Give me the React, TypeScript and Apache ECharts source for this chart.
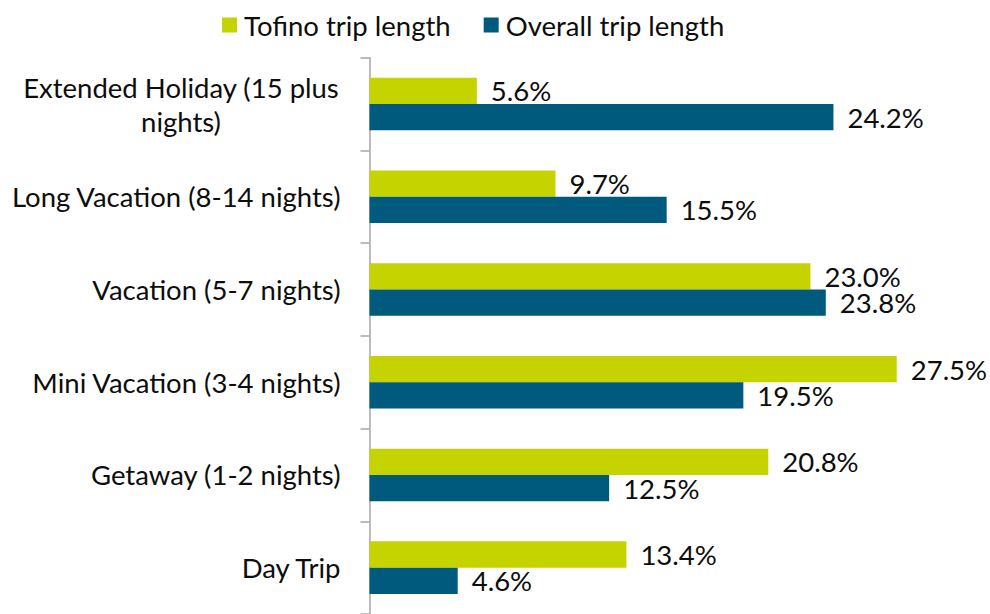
import React, { useEffect, useRef } from "react";
import * as echarts from "echarts";

const categories = [
  "Extended Holiday (15 plus nights)",
  "Long Vacation (8-14 nights)",
  "Vacation (5-7 nights)",
  "Mini Vacation (3-4 nights)",
  "Getaway (1-2 nights)",
  "Day Trip",
];
const seriesNames = ["Tofino trip length", "Overall trip length"];
const tofino = [5.6, 9.7, 23.0, 27.5, 20.8, 13.4];
const overall = [24.2, 15.5, 23.8, 19.5, 12.5, 4.6];

const FONT = "Lato";
const FS = 27.5;

function measure(text: string): number {
  const c = document.createElement("canvas").getContext("2d");
  if (!c) return text.length * FS * 0.5;
  c.font = `${FS}px ${FONT}`;
  return c.measureText(text).width;
}

export default function App() {
  const ref = useRef<HTMLDivElement>(null);
  useEffect(() => {
    if (!ref.current) return;
    const chart = echarts.init(ref.current, undefined, { renderer: "svg" });
    const firstLine = "Extended Holiday (15 plus";
    const w = Math.ceil(measure(firstLine)) + 2;
    const valueLabel = {
      show: true,
      position: "right",
      distance: 14,
      fontSize: FS,
      fontFamily: FONT,
      color: "#0d0d0d",
      lineHeight: 26,
      formatter: (p: any) => p.value.toFixed(1) + "%",
    };
    chart.setOption({
      animation: false,
      textStyle: { fontFamily: FONT, color: "#0d0d0d" },
      legend: {
        data: seriesNames,
        left: 222,
        top: 10,
        padding: 0,
        itemWidth: 15,
        itemHeight: 15,
        itemGap: 33,
        icon: "rect",
        textStyle: { fontSize: FS, fontFamily: FONT, color: "#0d0d0d", lineHeight: 30, padding: [0, 0, 0, 2] },
      },
      grid: { left: 369.5, top: 57.7, height: 560, right: 7, containLabel: false },
      xAxis: {
        type: "value",
        min: 0,
        max: 32,
        show: false,
        splitLine: { show: false },
      },
      yAxis: {
        type: "category",
        inverse: true,
        data: categories,
        axisLine: { show: true, lineStyle: { color: "#a6a6a6", width: 1.5 } },
        axisTick: { show: true, length: 9, lineStyle: { color: "#a6a6a6", width: 1.5 } },
        axisLabel: {
          margin: 29,
          fontSize: FS,
          fontFamily: FONT,
          color: "#0d0d0d",
          lineHeight: 34,
          align: "right",
          formatter: (v: string) => {
            if (v === categories[0]) {
              return `{c|${firstLine}}\n{c|nights)}`;
            }
            return v;
          },
          rich: {
            c: { width: w, align: "center", fontSize: FS, fontFamily: FONT, color: "#0d0d0d", lineHeight: 34 },
          },
        },
      },
      series: [
        {
          name: seriesNames[0],
          type: "bar",
          data: tofino,
          barWidth: 26.3,
          barGap: "0%",
          itemStyle: { color: "#c5d300" },
          label: valueLabel,
        },
        {
          name: seriesNames[1],
          type: "bar",
          data: overall,
          barWidth: 26.3,
          barGap: "0%",
          itemStyle: { color: "#005a7d" },
          label: valueLabel,
        },
      ],
    });
    return () => chart.dispose();
  }, []);
  return <div ref={ref} style={{ width: 990, height: 614, position: "absolute", left: 0, top: 0 }} />;
}
